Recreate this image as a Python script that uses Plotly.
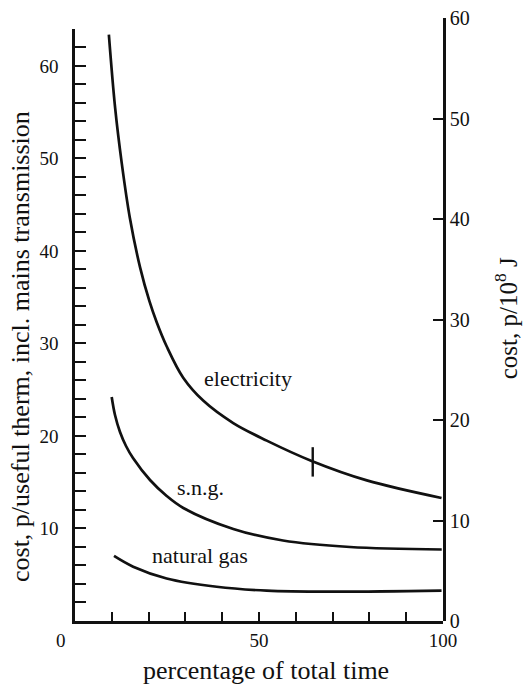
import plotly.graph_objects as go

# ---- data (cost, p/useful therm vs percentage of total time) ----
elec_x = [9.2, 10.9, 12.7, 14.9, 17.7, 20.2, 22.2, 24.9, 29.4, 34.9, 43.0, 52.1, 64.3, 79.3, 99.6]
elec_y = [63.4, 55.5, 49.5, 43.6, 38.2, 34.6, 32.3, 29.7, 26.3, 23.8, 21.4, 19.5, 17.3, 15.2, 13.3]

sng_x = [9.97, 10.87, 12.23, 13.86, 15.76, 20.38, 24.92, 29.43, 43.02, 56.52, 74.73, 99.65]
sng_y = [24.22, 22.27, 20.43, 18.92, 17.62, 15.24, 13.51, 12.22, 9.95, 8.70, 8.0, 7.73]

gas_x = [10.6, 15.8, 24.9, 38.5, 52.1, 70.2, 99.6]
gas_y = [7.03, 5.87, 4.6, 3.7, 3.28, 3.17, 3.28]

mark_x = [64.6]
mark_y = [17.2]

x_ticks = [0, 50, 100]
x_ticktext = ["0" + "\u00a0" * 6, "50", "100"]
x_minor = list(range(10, 100, 10))
left_ticks = [10, 20, 30, 40, 50, 60]
left_ticktext = [str(v) for v in left_ticks]
left_minor = list(range(2, 65, 2))
right_ticks = list(range(0, 61, 10))
right_ticktext = [str(v) for v in right_ticks]

FONT = "Liberation Serif"
INK = "#111111"

fig = go.Figure()
line_style = dict(color=INK, width=2.7, shape="spline", smoothing=1.0)
fig.add_trace(go.Scatter(x=elec_x, y=elec_y, mode="lines", line=line_style,
                         name="electricity", showlegend=False, hoverinfo="skip"))
fig.add_trace(go.Scatter(x=sng_x, y=sng_y, mode="lines", line=line_style,
                         name="s.n.g.", showlegend=False, hoverinfo="skip"))
fig.add_trace(go.Scatter(x=gas_x, y=gas_y, mode="lines", line=line_style,
                         name="natural gas", showlegend=False, hoverinfo="skip"))
fig.add_trace(go.Scatter(x=mark_x, y=mark_y, mode="markers",
                         marker=dict(symbol="line-ns", size=21, line=dict(color=INK, width=2.4)),
                         showlegend=False, hoverinfo="skip"))
# placeholder trace so the right-hand axis is drawn
fig.add_trace(go.Scatter(x=[None], y=[None], yaxis="y2", showlegend=False, hoverinfo="skip"))

tickfont = dict(family=FONT, size=19, color=INK)

fig.update_layout(
    width=523, height=684,
    margin=dict(l=75, r=80, t=18, b=63, autoexpand=False),
    paper_bgcolor="white", plot_bgcolor="rgba(0,0,0,0)",
    showlegend=False,
    xaxis=dict(range=[0, 100], domain=[0, 1], anchor="y", automargin=False,
               showline=True, linewidth=2.6, linecolor=INK,
               showgrid=False, zeroline=False,
               tickmode="array", tickvals=x_ticks, ticktext=x_ticktext,
               ticks="inside", ticklen=9, tickwidth=2, tickcolor=INK,
               minor=dict(tickmode="array", tickvals=x_minor, ticks="inside",
                          ticklen=9, tickwidth=2, tickcolor=INK, showgrid=False),
               tickfont=tickfont, ticklabelstandoff=0),
    yaxis=dict(range=[0, 64], domain=[0, 0.9818], anchor="x", automargin=False,
               showline=True, linewidth=2.6, linecolor=INK,
               showgrid=False, zeroline=False,
               tickmode="array", tickvals=left_ticks, ticktext=left_ticktext,
               ticks="inside", ticklen=11, tickwidth=2, tickcolor=INK,
               minor=dict(tickmode="array", tickvals=left_minor, ticks="inside",
                          ticklen=11, tickwidth=2, tickcolor=INK, showgrid=False),
               tickfont=tickfont, ticklabelstandoff=10),
    yaxis2=dict(range=[0, 60], domain=[0, 1], anchor="x", side="right", automargin=False,
                showline=True, linewidth=2.6, linecolor=INK,
                showgrid=False, zeroline=False,
                tickmode="array", tickvals=right_ticks, ticktext=right_ticktext,
                ticks="inside", ticklen=10, tickwidth=2, tickcolor=INK,
                tickfont=dict(family=FONT, size=20, color=INK), ticklabelstandoff=0),
)

ann_font = dict(family=FONT, size=22, color=INK)
fig.add_annotation(x=47.0, y=26.2, xref="x", yref="y", text="electricity",
                   showarrow=False, font=ann_font, xanchor="center", yanchor="middle")
fig.add_annotation(x=34.2, y=14.4, xref="x", yref="y", text="s.n.g.",
                   showarrow=False, font=ann_font, xanchor="center", yanchor="middle")
fig.add_annotation(x=34.0, y=7.1, xref="x", yref="y", text="natural gas",
                   showarrow=False, font=ann_font, xanchor="center", yanchor="middle")

# axis titles
fig.add_annotation(x=-0.1467, y=0.4544, xref="paper", yref="paper",
                   text="cost, p/useful therm, incl. mains transmission",
                   textangle=-90, showarrow=False, font=dict(family=FONT, size=26, color=INK),
                   xanchor="center", yanchor="middle")
fig.add_annotation(x=1.172, y=0.5025, xref="paper", yref="paper",
                   text="cost, p/10<sup>8</sup> J",
                   textangle=-90, showarrow=False, font=dict(family=FONT, size=25, color=INK),
                   xanchor="center", yanchor="middle")
fig.add_annotation(x=0.519, y=-0.0813, xref="paper", yref="paper",
                   text="percentage of total time",
                   showarrow=False, font=dict(family=FONT, size=26, color=INK),
                   xanchor="center", yanchor="middle")

fig.write_html("out.html", config={"displayModeBar": False},
               post_script="document.body.style.margin='0';")
